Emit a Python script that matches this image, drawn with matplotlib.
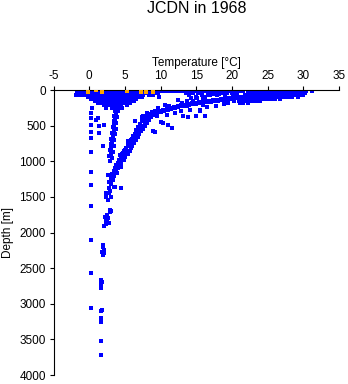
import matplotlib
matplotlib.use("Agg")
import matplotlib.pyplot as plt

# ---------------- data (temperature [degC], depth [m]) ----------------
title = "JCDN in 1968"
x_ticks = [-5, 0, 5, 10, 15, 20, 25, 30, 35]
y_ticks = [0, 500, 1000, 1500, 2000, 2500, 3000, 3500, 4000]

# surface layer, grouped by depth row: depth -> temperatures
surface_rows = {
    8: [-0.4, 0.4, 1.2, 1.6, 2.0, 2.5, 2.9, 3.4, 3.8, 4.3, 4.7, 5.6, 6.0, 6.5, 6.9, 7.4,
        8.3, 8.7, 9.2, 9.6, 10.1, 10.6, 11.0, 11.5, 11.9, 12.4, 12.8, 13.3, 13.7, 14.2,
        14.6, 15.1, 15.5, 16.0, 16.4, 16.9, 17.3, 17.8, 18.2, 18.7, 19.6, 20.0, 20.5,
        21.0, 21.6, 22.3, 22.8, 23.2, 23.7, 24.1, 24.6, 25.0, 25.5, 25.9, 26.4, 26.8,
        27.3, 27.7, 28.2, 28.6, 29.1, 29.5, 30.0, 30.4, 31.2],
    35: [-1.7, -1.2, -0.8, -0.3, 0.1, 0.6, 1.0, 1.5, 1.9, 2.4, 2.8, 3.3, 3.7, 4.2, 4.6,
         5.1, 5.5, 6.0, 6.4, 6.9, 7.3, 7.8, 8.2, 8.7, 9.1, 9.6, 13.6, 14.5, 15.3, 16.6,
         17.2, 18.0, 18.6, 19.3, 20.0, 20.7, 22.6, 23.1, 23.5, 24.0, 24.4, 24.9, 25.3,
         25.8, 26.2, 26.7, 27.1, 27.6, 28.0, 28.5, 28.9, 29.4, 29.8, 30.3],
    65: [-1.8, -1.3, -0.9, -0.4, 0.3, 0.7, 1.2, 1.6, 2.1, 2.5, 3.0, 3.4, 3.9, 4.3, 4.8,
         5.2, 5.7, 6.1, 6.6, 7.0, 7.6, 8.4, 9.0, 14.0, 15.8, 16.9, 17.9, 19.0, 20.2,
         21.8, 22.3, 22.7, 23.2, 23.6, 24.1, 24.5, 25.0, 25.4, 25.9, 26.3, 26.8, 27.2,
         27.7, 28.1, 28.6, 29.0, 29.5, 29.9],
    95: [-0.2, 0.4, 0.9, 1.3, 1.8, 2.2, 2.7, 3.1, 3.6, 4.0, 4.5, 4.9, 5.4, 5.8, 6.3, 6.8,
         7.4, 9.8, 15.0, 16.2, 21.2, 21.7, 22.1, 22.6, 23.0, 23.5, 23.9, 24.4, 24.8,
         25.3, 25.7, 26.2, 26.6, 27.1, 27.5, 28.0, 28.4, 29.2],
    125: [0.2, 0.7, 1.1, 1.6, 2.0, 2.5, 2.9, 3.4, 3.8, 4.3, 4.7, 5.2, 5.6, 6.1, 6.6,
          21.0, 21.5, 21.9, 22.4, 22.8, 23.3, 23.7, 24.2, 24.6, 25.1, 25.5, 26.1, 26.8],
    155: [0.8, 1.3, 1.7, 2.2, 2.6, 3.1, 3.5, 4.0, 4.4, 4.9, 5.3, 5.8, 6.3,
          21.0, 21.5, 21.9, 22.4, 22.8, 23.4, 24.0],
    185: [1.2, 1.8, 2.3, 2.8, 3.2, 3.7, 4.1, 4.6, 5.1, 5.7, 21.1, 21.6, 22.2],
    215: [2.0, 2.6, 3.1, 3.5, 3.9, 4.4, 5.3],
    245: [0.4, 2.4, 3.2, 3.6, 4.0, 4.6],
}

# upper (warm-water) thermocline branch
upper_branch_t = [9.0, 9.5, 10.0, 10.5, 11.0, 11.5, 12.0, 12.5, 13.0, 13.5, 14.0, 14.5,
                  15.0, 15.5, 16.0, 16.5, 17.0, 17.5, 18.0, 18.5, 19.0, 19.5, 20.0,
                  20.5, 21.0, 21.5,
                  9.4, 9.9, 10.4, 10.9, 11.4, 11.9, 12.4, 12.9, 13.4, 13.9, 14.4,
                  14.9, 15.4, 15.9, 16.4, 16.9, 17.4, 17.9, 18.4, 18.9, 19.4, 19.9,
                  20.4, 20.9,
                  10.6, 11.2, 13.0, 13.7, 9.6, 9.5, 10.3, 8.9, 11.6, 10.2, 10.9, 12.0,
                  13.1, 14.1, 13.8, 15.0, 16.2, 10.0, 11.0, 9.2, 12.8, 15.5, 14.6,
                  15.9, 16.7, 17.3, 18.2, 14.2, 12.5, 17.8, 18.9, 16.5, 19.5, 20.3,
                  13.7, 14.4, 15.1, 16.0, 15.5]
upper_branch_d = [350, 330, 310, 290, 275, 262, 250, 238, 228, 218, 208, 200,
                  192, 185, 178, 170, 163, 156, 150, 143, 136, 130, 124,
                  118, 112, 106,
                  325, 305, 285, 268, 252, 240, 228, 216, 205, 196, 188,
                  178, 170, 162, 155, 148, 140, 133, 126, 120, 112, 106,
                  100, 95,
                  210, 230, 182, 225, 253, 365, 463, 576, 533, 295, 351, 323,
                  365, 281, 379, 365, 365, 450, 490, 590, 300, 280, 150,
                  120, 70, 50, 60, 110, 140, 230, 200, 240, 180, 160,
                  154, 175, 112, 210, 295]

# main (cold-water) branch down to the deep column
main_branch_t = [9.2, 8.8, 8.5, 9.0, 8.1, 8.3, 7.9, 8.0, 7.6, 7.4, 7.8, 7.1, 7.3, 6.9,
                 7.0, 6.6, 6.8, 6.4, 6.2, 6.5, 6.0, 5.8, 6.1, 5.6, 5.4, 5.7, 5.2, 5.0,
                 5.3, 4.8, 4.6, 4.9, 4.4, 4.2, 4.5, 4.0, 3.8, 4.1, 3.6, 3.4, 3.8, 3.2,
                 3.5, 3.0, 3.3, 2.8, 3.1, 3.4, 2.7, 2.9,
                 7.6, 7.4, 6.4, 6.0, 5.5, 4.9, 4.3, 4.7, 5.2, 5.7, 5.4, 4.5, 3.9,
                 2.6, 3.1, 2.4, 3.6, 4.4, 2.4, 3.0, 2.7, 2.6, 2.9, 2.5, 3.0, 2.9, 2.2,
                 2.6, 2.4, 2.8, 2.0, 2.3, 2.5,
                 1.9, 1.9, 2.0, 1.8, 1.9, 2.1, 1.7, 1.8, 1.7, 1.7, 1.6,
                 1.7, 1.8, 1.7, 1.7, 1.7, 1.7, 1.6]
main_branch_d = [295, 310, 330, 340, 323, 365, 380, 400, 420, 440, 455, 470, 500, 520,
                 550, 560, 590, 610, 640, 660, 680, 700, 720, 740, 770, 790, 810, 840,
                 860, 880, 900, 920, 950, 980, 1000, 1020, 1050, 1080, 1100, 1130, 1150,
                 1180, 1200, 1230, 1260, 1290, 1320, 1360, 1380, 1410,
                 365, 379, 435, 750, 720, 860, 913, 880, 871, 860, 900, 1081, 1166,
                 1194, 1306, 1450, 1362, 1380, 1503, 1500, 1450, 1540, 1713, 1760,
                 1700, 1685, 1784, 1800, 1826, 1870, 1910, 1880, 1840,
                 2180, 2205, 2247, 2270, 2317, 2290, 2669, 2700, 2725, 2781, 2760,
                 3104, 3090, 3202, 3230, 3258, 3525, 3722]

# warm edge of the main branch (makes the band thicker)
main_edge_t = [9.5, 9.1, 8.7, 8.4, 8.1, 7.8, 7.6, 7.3, 7.0, 6.8, 6.5, 6.3, 6.0, 5.8,
               5.5, 5.3, 5.0, 4.8, 4.5, 4.3, 4.0, 3.8]
main_edge_d = [300, 340, 380, 420, 460, 500, 540, 580, 620, 660, 700, 740, 780, 820,
               860, 900, 940, 980, 1020, 1060, 1100, 1140]

# left column near 3 degC between 250 and 1000 m
left_column_t = [3.8, 3.6, 4.0, 3.7, 3.5, 3.9, 3.6, 3.4, 3.8, 3.5, 3.3, 3.7, 3.4, 3.2,
                 3.6, 3.3, 3.1, 3.5, 3.2, 3.0, 3.4, 3.1, 2.9, 3.3, 3.0, 2.8, 3.2, 2.9]
left_column_d = [260, 290, 300, 330, 360, 380, 410, 440, 460, 490, 520, 540, 570, 600,
                 620, 650, 680, 700, 730, 760, 780, 810, 840, 870, 900, 930, 960, 990]

# isolated cold readings near 0 degC
cold_column_t = [0.3, 0.3, 1.2, 0.3, 1.4, 0.3, 1.4, 0.3, 1.9, 0.2, 0.2, 0.2, 0.2, 0.2,
                 0.2, 0.3, 1.0, 2.0]
cold_column_d = [323, 393, 393, 491, 506, 590, 604, 674, 786, 870, 1152, 1334, 1629,
                 2107, 2570, 3062, 420, 490]

# orange (flagged) surface readings
orange_t = [0.9, -0.2, 1.8, 5.3, 7.3, 8.0, 8.0, 8.9]
orange_d = [2, 30, 30, 10, 30, 10, 28, 20]

# ---------------- assemble ----------------
blue_t, blue_d = [], []
for d, temps in surface_rows.items():
    blue_t += temps
    blue_d += [d] * len(temps)
for ts, ds in [(upper_branch_t, upper_branch_d), (main_branch_t, main_branch_d),
               (main_edge_t, main_edge_d),
               (left_column_t, left_column_d), (cold_column_t, cold_column_d)]:
    blue_t += ts
    blue_d += ds

plt.rcParams['font.family'] = ['Liberation Sans', 'DejaVu Sans']
plt.rcParams['axes.unicode_minus'] = False

fig = plt.figure(figsize=(3.48, 3.84), dpi=100)
ax = fig.add_axes([0.154, 0.0234, 0.820, 0.742])

ax.scatter(blue_t, blue_d, marker='s', s=5.5, color='#0000FF', linewidths=0, zorder=2)
ax.scatter(orange_t, orange_d, marker='s', s=5.5, color='#FFA500', linewidths=0, zorder=3)

ax.set_xlim(-5, 35)
ax.set_ylim(4000, 0)
ax.set_xticks(x_ticks)
ax.set_yticks(y_ticks)
ax.xaxis.tick_top()
ax.xaxis.set_label_position('top')
for side in ['right', 'bottom']:
    ax.spines[side].set_visible(False)
for side in ['top', 'left']:
    ax.spines[side].set_linewidth(0.8)
ax.tick_params(axis='both', length=3, width=0.8, labelsize=8.5, pad=2.5, colors='black')
ax.set_xlabel('Temperature [°C]', fontsize=8.5, labelpad=3)
ax.set_ylabel('Depth [m]', fontsize=8.5, labelpad=4)
fig.text(0.565, 0.977, title, ha='center', va='center', fontsize=11.5)

fig.savefig('out.png', dpi=100)
